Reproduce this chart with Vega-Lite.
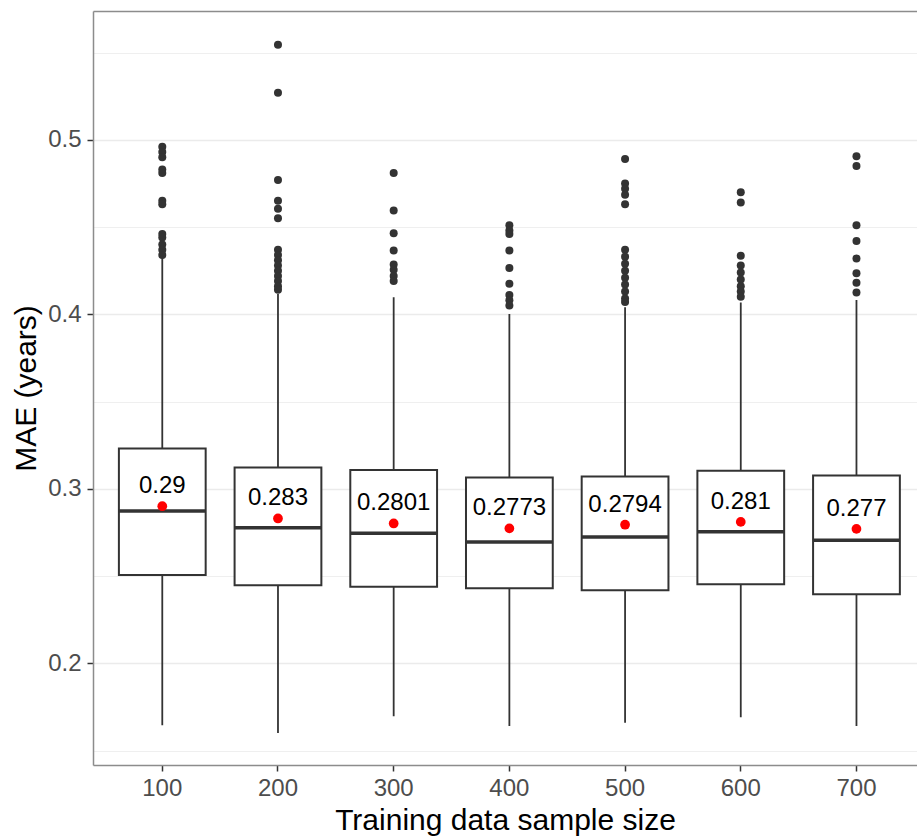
{
  "$schema": "https://vega.github.io/schema/vega-lite/v6.json",
  "width": 824,
  "height": 754,
  "autosize": "none",
  "padding": {"left": 93, "top": 11, "right": 0, "bottom": 73},
  "background": "white",
  "config": {"view": {"stroke": null}, "font": "Liberation Sans"},
  "datasets": {
    "boxes": [
      {"size": "100", "lower": 0.1645, "q1": 0.2506, "median": 0.2873, "q3": 0.3231, "upper": 0.4327, "mean": 0.29, "label": "0.29"},
      {"size": "200", "lower": 0.1601, "q1": 0.2447, "median": 0.2777, "q3": 0.3122, "upper": 0.4116, "mean": 0.283, "label": "0.283"},
      {"size": "300", "lower": 0.1697, "q1": 0.2439, "median": 0.2745, "q3": 0.3107, "upper": 0.4097, "mean": 0.2801, "label": "0.2801"},
      {"size": "400", "lower": 0.164, "q1": 0.243, "median": 0.2695, "q3": 0.3064, "upper": 0.4002, "mean": 0.2773, "label": "0.2773"},
      {"size": "500", "lower": 0.1659, "q1": 0.2418, "median": 0.2724, "q3": 0.307, "upper": 0.404, "mean": 0.2794, "label": "0.2794"},
      {"size": "600", "lower": 0.1691, "q1": 0.2453, "median": 0.2753, "q3": 0.3103, "upper": 0.4068, "mean": 0.281, "label": "0.281"},
      {"size": "700", "lower": 0.164, "q1": 0.2395, "median": 0.2705, "q3": 0.3076, "upper": 0.4082, "mean": 0.277, "label": "0.277"}
    ],
    "outliers": [
      {"size": "100", "value": 0.496}, {"size": "100", "value": 0.493}, {"size": "100", "value": 0.49},
      {"size": "100", "value": 0.483}, {"size": "100", "value": 0.481}, {"size": "100", "value": 0.465},
      {"size": "100", "value": 0.463}, {"size": "100", "value": 0.446}, {"size": "100", "value": 0.444},
      {"size": "100", "value": 0.44}, {"size": "100", "value": 0.437}, {"size": "100", "value": 0.434},
      {"size": "200", "value": 0.5545}, {"size": "200", "value": 0.527}, {"size": "200", "value": 0.477},
      {"size": "200", "value": 0.465}, {"size": "200", "value": 0.4605}, {"size": "200", "value": 0.455},
      {"size": "200", "value": 0.437}, {"size": "200", "value": 0.434}, {"size": "200", "value": 0.431},
      {"size": "200", "value": 0.428}, {"size": "200", "value": 0.425}, {"size": "200", "value": 0.422},
      {"size": "200", "value": 0.419}, {"size": "200", "value": 0.416}, {"size": "200", "value": 0.414},
      {"size": "300", "value": 0.481}, {"size": "300", "value": 0.4595}, {"size": "300", "value": 0.4465},
      {"size": "300", "value": 0.4365}, {"size": "300", "value": 0.4285}, {"size": "300", "value": 0.4255},
      {"size": "300", "value": 0.422}, {"size": "300", "value": 0.419},
      {"size": "400", "value": 0.451}, {"size": "400", "value": 0.448}, {"size": "400", "value": 0.446},
      {"size": "400", "value": 0.4365}, {"size": "400", "value": 0.4265}, {"size": "400", "value": 0.4175},
      {"size": "400", "value": 0.411}, {"size": "400", "value": 0.408}, {"size": "400", "value": 0.405},
      {"size": "500", "value": 0.489}, {"size": "500", "value": 0.475}, {"size": "500", "value": 0.472},
      {"size": "500", "value": 0.4685}, {"size": "500", "value": 0.463}, {"size": "500", "value": 0.437},
      {"size": "500", "value": 0.433}, {"size": "500", "value": 0.429}, {"size": "500", "value": 0.425},
      {"size": "500", "value": 0.421}, {"size": "500", "value": 0.417}, {"size": "500", "value": 0.413},
      {"size": "500", "value": 0.409}, {"size": "500", "value": 0.407},
      {"size": "600", "value": 0.47}, {"size": "600", "value": 0.464}, {"size": "600", "value": 0.4335},
      {"size": "600", "value": 0.428}, {"size": "600", "value": 0.424}, {"size": "600", "value": 0.42},
      {"size": "600", "value": 0.416}, {"size": "600", "value": 0.413}, {"size": "600", "value": 0.41},
      {"size": "700", "value": 0.4905}, {"size": "700", "value": 0.485}, {"size": "700", "value": 0.451},
      {"size": "700", "value": 0.442}, {"size": "700", "value": 0.432}, {"size": "700", "value": 0.4235},
      {"size": "700", "value": 0.418}, {"size": "700", "value": 0.4125}
    ]
  },
  "encoding": {
    "x": {
      "field": "size",
      "type": "nominal",
      "sort": ["100", "200", "300", "400", "500", "600", "700"],
      "scale": {"type": "band", "paddingInner": 0, "paddingOuter": 0.061, "align": 0.81},
      "axis": {
        "title": "Training data sample size",
        "titleFontSize": 30,
        "titleFontWeight": "normal",
        "titleColor": "#000000",
        "titleBaseline": "alphabetic",
        "titleY": 64,
        "labelAngle": 0,
        "labelFontSize": 24,
        "labelColor": "#4d4d4d",
        "labelPadding": 5,
        "tickSize": 6,
        "tickWidth": 1.5,
        "tickColor": "#333333",
        "domainColor": "#8c8c8c",
        "domainWidth": 1.5,
        "grid": false
      }
    }
  },
  "layer": [
    {
      "data": {"name": "boxes"},
      "mark": {"type": "rule", "color": "#333333", "strokeWidth": 1.8},
      "encoding": {
        "y": {
          "field": "lower",
          "type": "quantitative",
          "scale": {"domain": [0.1417, 0.5738], "zero": false, "nice": false},
          "axis": {
            "title": "MAE (years)",
            "titleFontSize": 30,
            "titleFontWeight": "normal",
            "titleColor": "#000000",
            "titleBaseline": "alphabetic",
            "titleX": -58,
            "titleY": 377,
            "values": [0.15, 0.2, 0.25, 0.3, 0.35, 0.4, 0.45, 0.5, 0.55, 0.5738],
            "labelExpr": "abs(datum.value*10 - round(datum.value*10)) < 0.001 ? format(datum.value, '.1f') : ''",
            "labelFontSize": 24,
            "labelColor": "#4d4d4d",
            "labelPadding": 6,
            "labelBaseline": "middle",
            "tickSize": 6,
            "tickWidth": 1.5,
            "tickColor": "#333333",
            "tickOpacity": {"condition": {"test": "abs(datum.value*10 - round(datum.value*10)) < 0.001", "value": 1}, "value": 0},
            "domainColor": "#8c8c8c",
            "domainWidth": 1.5,
            "grid": true,
            "gridColor": {"condition": {"test": "datum.value > 0.57", "value": "#8c8c8c"}, "value": "#ebebeb"},
            "gridWidth": {"condition": {"test": "datum.value > 0.57 || abs(datum.value*10 - round(datum.value*10)) < 0.001", "value": 1.5}, "value": 0.8}
          }
        },
        "y2": {"field": "upper"}
      }
    },
    {
      "data": {"name": "boxes"},
      "mark": {"type": "bar", "fill": "white", "stroke": "#333333", "strokeWidth": 2, "width": {"band": 0.75}},
      "encoding": {
        "y": {"field": "q1", "type": "quantitative"},
        "y2": {"field": "q3"}
      }
    },
    {
      "data": {"name": "boxes"},
      "mark": {"type": "tick", "orient": "horizontal", "color": "#333333", "thickness": 3.5, "size": 87, "opacity": 1},
      "encoding": {
        "y": {"field": "median", "type": "quantitative"}
      }
    },
    {
      "data": {"name": "outliers"},
      "mark": {"type": "point", "filled": true, "color": "#333333", "size": 64, "opacity": 1},
      "encoding": {
        "y": {"field": "value", "type": "quantitative"}
      }
    },
    {
      "data": {"name": "boxes"},
      "mark": {"type": "point", "filled": true, "color": "#ff0000", "size": 95, "opacity": 1},
      "encoding": {
        "y": {"field": "mean", "type": "quantitative"}
      }
    },
    {
      "data": {"name": "boxes"},
      "mark": {"type": "text", "dy": -20, "fontSize": 24, "color": "#000000", "baseline": "middle", "align": "center"},
      "encoding": {
        "y": {"field": "mean", "type": "quantitative"},
        "text": {"field": "label"}
      }
    }
  ]
}
